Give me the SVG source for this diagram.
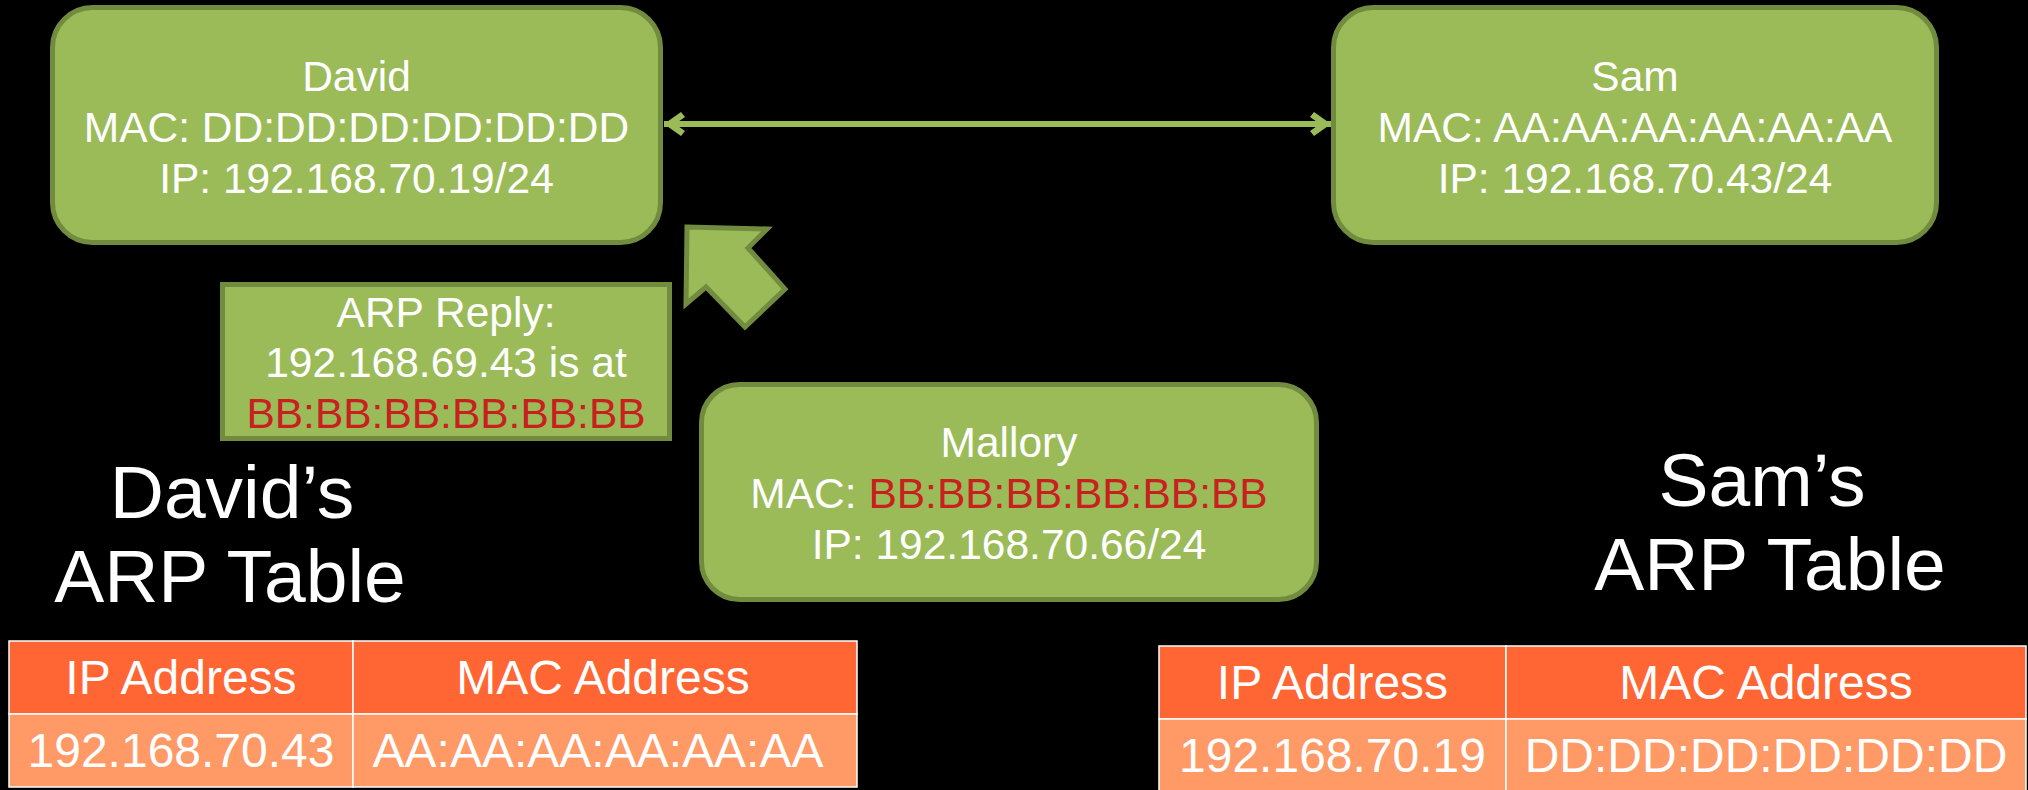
<svg xmlns="http://www.w3.org/2000/svg" width="2028" height="790" viewBox="0 0 2028 790">
  <style>
    text { font-family: "Liberation Sans", Arial, sans-serif; fill: #ffffff; text-anchor: middle; }
    .node { fill: #9BBB59; stroke: #728C3F; stroke-width: 5; }
    .nt { font-size: 42.5px; }
    .red { fill: #C8201E; }
    .title { font-size: 75px; }
    .th { fill: #FF6633; stroke: #FFFFFF; stroke-width: 1.5; }
    .td { fill: #FF9966; stroke: #FFFFFF; stroke-width: 1.5; }
    .tt { font-size: 48px; }
    .link { stroke: #9BBB59; stroke-width: 6; fill: none; }
  </style>
  <defs>
    <marker id="chev" viewBox="0 0 26 26" refX="24" refY="13" markerWidth="26" markerHeight="26" markerUnits="userSpaceOnUse" orient="auto-start-reverse">
      <path d="M24,13 L7,1 L3,6 L13,13 L3,20 L7,25 Z" fill="#9BBB59"/>
    </marker>
  </defs>

  <rect width="2028" height="790" fill="#000000"/>

  <!-- connectors -->
  <g id="connectors">
    <line class="link" x1="664" y1="124" x2="1331" y2="124" marker-start="url(#chev)" marker-end="url(#chev)"/>
    <polygon id="reply-arrow" class="node" points="687,227 767,229 748,248 785,289 745,327 706,287 686,304"/>
  </g>

  <g id="david">
    <rect class="node" x="52.5" y="7.5" width="608" height="235" rx="40"/>
    <text class="nt" x="356.5" y="91">David</text>
    <text class="nt" x="356.5" y="142">MAC: DD:DD:DD:DD:DD:DD</text>
    <text class="nt" x="356.5" y="193">IP: 192.168.70.19/24</text>
  </g>

  <g id="sam">
    <rect class="node" x="1333.5" y="7.5" width="603" height="235" rx="40"/>
    <text class="nt" x="1635" y="91">Sam</text>
    <text class="nt" x="1635" y="142">MAC: AA:AA:AA:AA:AA:AA</text>
    <text class="nt" x="1635" y="193">IP: 192.168.70.43/24</text>
  </g>

  <g id="arp-reply">
    <rect class="node" x="222.5" y="284.5" width="447" height="154"/>
    <text class="nt" x="446" y="327">ARP Reply:</text>
    <text class="nt" x="446" y="377">192.168.69.43 is at</text>
    <text class="nt red" x="446" y="428">BB:BB:BB:BB:BB:BB</text>
  </g>

  <g id="mallory">
    <rect class="node" x="701.5" y="384.5" width="615" height="215" rx="38"/>
    <text class="nt" x="1009" y="457">Mallory</text>
    <text class="nt" x="1009" y="508">MAC: <tspan class="red">BB:BB:BB:BB:BB:BB</tspan></text>
    <text class="nt" x="1009" y="559">IP: 192.168.70.66/24</text>
  </g>

  <g id="david-table-title">
    <text class="title" x="232" y="518">David’s</text>
    <text class="title" x="230" y="602">ARP Table</text>
  </g>

  <g id="sam-table-title">
    <text class="title" x="1762" y="506">Sam’s</text>
    <text class="title" x="1770" y="590">ARP Table</text>
  </g>

  <g id="david-table">
    <rect class="th" x="9" y="641" width="344" height="73"/>
    <rect class="th" x="353" y="641" width="504" height="73"/>
    <rect class="td" x="9" y="714" width="344" height="73"/>
    <rect class="td" x="353" y="714" width="504" height="73"/>
    <text class="tt" x="181" y="694">IP Address</text>
    <text class="tt" x="603" y="694">MAC Address</text>
    <text class="tt" x="181" y="767">192.168.70.43</text>
    <text class="tt" x="598" y="767">AA:AA:AA:AA:AA:AA</text>
  </g>

  <g id="sam-table">
    <rect class="th" x="1159" y="646" width="347" height="73"/>
    <rect class="th" x="1506" y="646" width="520" height="73"/>
    <rect class="td" x="1159" y="719" width="347" height="73"/>
    <rect class="td" x="1506" y="719" width="520" height="73"/>
    <text class="tt" x="1332.5" y="699">IP Address</text>
    <text class="tt" x="1766" y="699">MAC Address</text>
    <text class="tt" x="1332.5" y="772">192.168.70.19</text>
    <text class="tt" x="1766" y="772">DD:DD:DD:DD:DD:DD</text>
  </g>
</svg>
